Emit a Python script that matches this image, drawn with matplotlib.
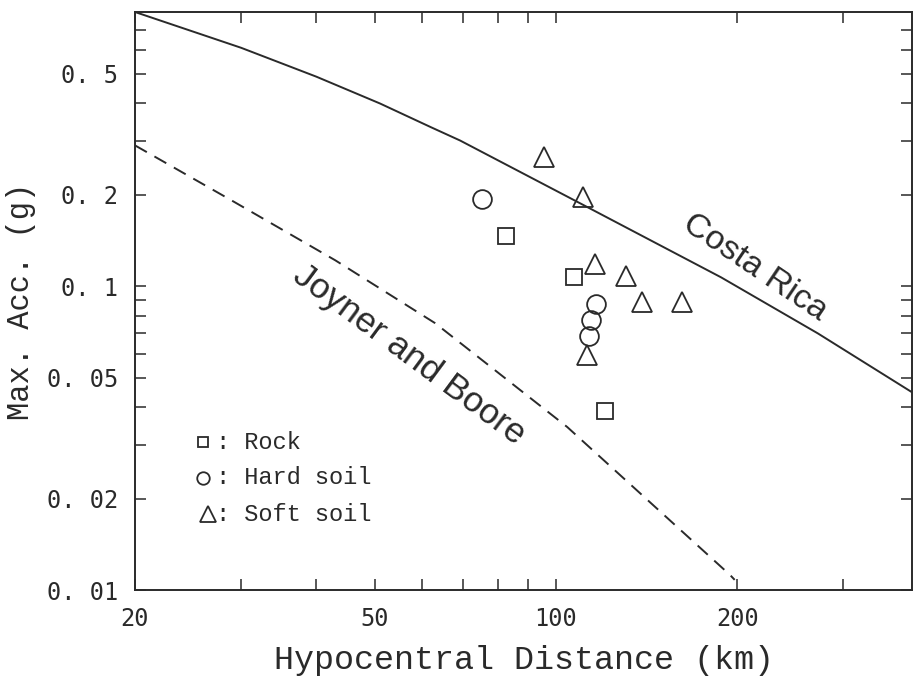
import numpy as np
import matplotlib.pyplot as plt
from matplotlib.ticker import FixedLocator, FixedFormatter, NullFormatter

# attenuation curves (distance km, max acc g)
cr_dist = [20, 30, 40, 51, 62, 69.3, 110, 188, 272, 392]
cr_acc = [0.80, 0.61, 0.49, 0.40, 0.334, 0.302, 0.187, 0.107, 0.070, 0.0445]

jb_dist = [20, 29.3, 43, 63, 104.4, 158.8, 194.6, 198]
jb_acc = [0.291, 0.189, 0.1218, 0.0756, 0.0344, 0.01615, 0.0112, 0.0108]

# observed peaks
rock_dist = [82.6, 107.3, 120.4]
rock_acc = [0.146, 0.107, 0.0388]

hard_dist = [75.5, 116.7, 114.4, 113.6]
hard_acc = [0.194, 0.0873, 0.0777, 0.0685]

soft_dist = [95.7, 110.8, 115.9, 130.8, 138.9, 161.9, 112.7]
soft_acc = [0.266, 0.197, 0.1188, 0.108, 0.0888, 0.0888, 0.0593]

y_major = [0.01, 0.02, 0.05, 0.1, 0.2, 0.5]
y_labels = ['0. 01', '0. 02', '0. 05', '0. 1', '0. 2', '0. 5']
y_minor = [0.03, 0.04, 0.06, 0.07, 0.08, 0.09, 0.3, 0.4, 0.6, 0.7]
x_major = [20, 50, 100, 200]
x_labels = ['20', '50', '100', '200']
x_minor = [30, 40, 60, 70, 80, 90, 300]

ink = '#2a2a2a'
mono = 'Liberation Mono'

fig = plt.figure(figsize=(9.13, 6.85), dpi=100)
ax = fig.add_axes([135/913, 1 - 590/685, 777/913, 578/685])

ax.plot(cr_dist, cr_acc, color=ink, lw=1.4)
ax.plot(jb_dist, jb_acc, color=ink, lw=1.4, dashes=(7, 4.5))

mk = dict(linestyle='none', mfc='none', mec=ink, mew=1.3)
ax.plot(rock_dist, rock_acc, marker='s', ms=12, **mk)
ax.plot(hard_dist, hard_acc, marker='o', ms=13.5, **mk)
ax.plot(soft_dist, soft_acc, marker='^', ms=15, **mk)

ax.set_xscale('log')
ax.set_yscale('log')
ax.set_xlim(20, 390)
ax.set_ylim(0.01, 0.8)

ax.xaxis.set_major_locator(FixedLocator(x_major))
ax.xaxis.set_major_formatter(FixedFormatter(x_labels))
ax.xaxis.set_minor_locator(FixedLocator(x_minor))
ax.xaxis.set_minor_formatter(NullFormatter())
ax.yaxis.set_major_locator(FixedLocator(y_major))
ax.yaxis.set_major_formatter(FixedFormatter(y_labels))
ax.yaxis.set_minor_locator(FixedLocator(y_minor))
ax.yaxis.set_minor_formatter(NullFormatter())

ax.tick_params(which='both', direction='in', length=8, width=1.1, color=ink,
               top=True, right=True, labelsize=17, pad=12, labelcolor=ink)
for lab in ax.get_xticklabels() + ax.get_yticklabels():
    lab.set_family('DejaVu Sans Mono')
for sp in ax.spines.values():
    sp.set_linewidth(1.4)
    sp.set_color(ink)

ax.set_xlabel('Hypocentral Distance (km)', fontsize=24, family=mono,
              color=ink, labelpad=10)
ax.set_ylabel('Max. Acc. (g)', fontsize=22, family=mono, color=ink,
              labelpad=8)

# curve names along the lines
ax.text(214, 0.115, 'Costa Rica', rotation=-34, rotation_mode='anchor',
        ha='center', va='center', fontsize=24.5, family='Liberation Sans',
        color=ink)
ax.text(57, 0.0593, 'Joyner and Boore', rotation=-36.5,
        rotation_mode='anchor', ha='center', va='center', fontsize=25.5,
        family='Liberation Sans', color=ink)

# symbol key
key = [('s', 7.5, ': Rock', 0.256, 0.0875),
       ('o', 9, ': Hard soil', 0.194, 0.0875),
       ('^', 12, ': Soft soil', 0.131, 0.094)]
for m, s, txt, yy, xx in key:
    ax.plot([xx], [yy], marker=m, ms=s, transform=ax.transAxes,
            clip_on=False, **mk)
    ax.text(0.104, yy, txt, transform=ax.transAxes, fontsize=17,
            family=mono, va='center', ha='left', color=ink)

fig.savefig('out.png', dpi=100)
